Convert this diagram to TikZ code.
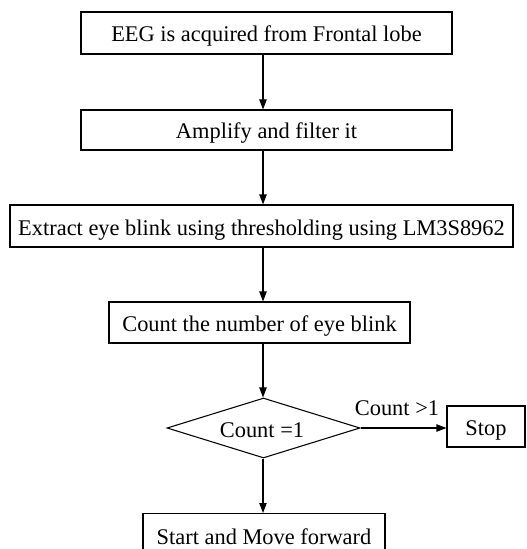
\documentclass[tikz,border=0pt]{standalone}
\usepackage{fontspec}
\setmainfont{Liberation Serif}
\usetikzlibrary{shapes.geometric,arrows.meta}
\begin{document}
\begin{tikzpicture}[x=0.75pt,y=-0.75pt,
  every node/.style={font=\fontsize{16.8}{20}\selectfont, inner sep=0pt},
  procbox/.style={draw=black, line width=0.8pt, rectangle, align=center, text height=13.5pt, text depth=0pt},
  flow/.style={draw=black, line width=0.8pt, -{Triangle[length=7.5pt,width=5.5pt]}}]
\useasboundingbox (0,0) rectangle (527,549);
\clip (0,0) rectangle (527,549);
\coordinate (xl) at (263,0);
\node[procbox, minimum width=371*0.75pt, minimum height=42*0.75pt] (b1) at (266.5,33) {EEG is acquired from Frontal lobe};
\node[procbox, minimum width=371*0.75pt, minimum height=40*0.75pt] (b2) at (266.5,130) {Amplify and filter it};
\node[procbox, minimum width=503*0.75pt, minimum height=42*0.75pt] (b3) at (261.5,226) {Extract eye blink using thresholding using LM3S8962};
\node[procbox, minimum width=301*0.75pt, minimum height=41*0.75pt] (b4) at (259.5,322.5) {Count the number of eye blink};
\node[draw=black, line width=0.8pt, diamond, minimum width=193*0.75pt, minimum height=60*0.75pt, inner sep=0pt] (d) at (263.5,428) {};
\node[anchor=base] (dt) at (262,437) {Count =1};
\node[procbox, minimum width=78*0.75pt, minimum height=41*0.75pt] (st) at (486,426.5) {Stop};
\node[procbox, minimum width=242*0.75pt, minimum height=44*0.75pt, anchor=north] (b6) at (264,513) {Start and Move forward};
\path[flow] (b1.south -| xl) -- (b2.north -| xl);
\path[flow] (b2.south -| xl) -- (b3.north -| xl);
\path[flow] (b3.south -| xl) -- (b4.north -| xl);
\path[flow] (b4.south -| xl) -- (d.north -| xl);
\path[flow] (d.south -| xl) -- (b6.north -| xl);
\path[flow] (d.east) -- (st.west |- d.east);
\node[anchor=base] (lbl) at (397,415) {Count >1};
\end{tikzpicture}
\end{document}
